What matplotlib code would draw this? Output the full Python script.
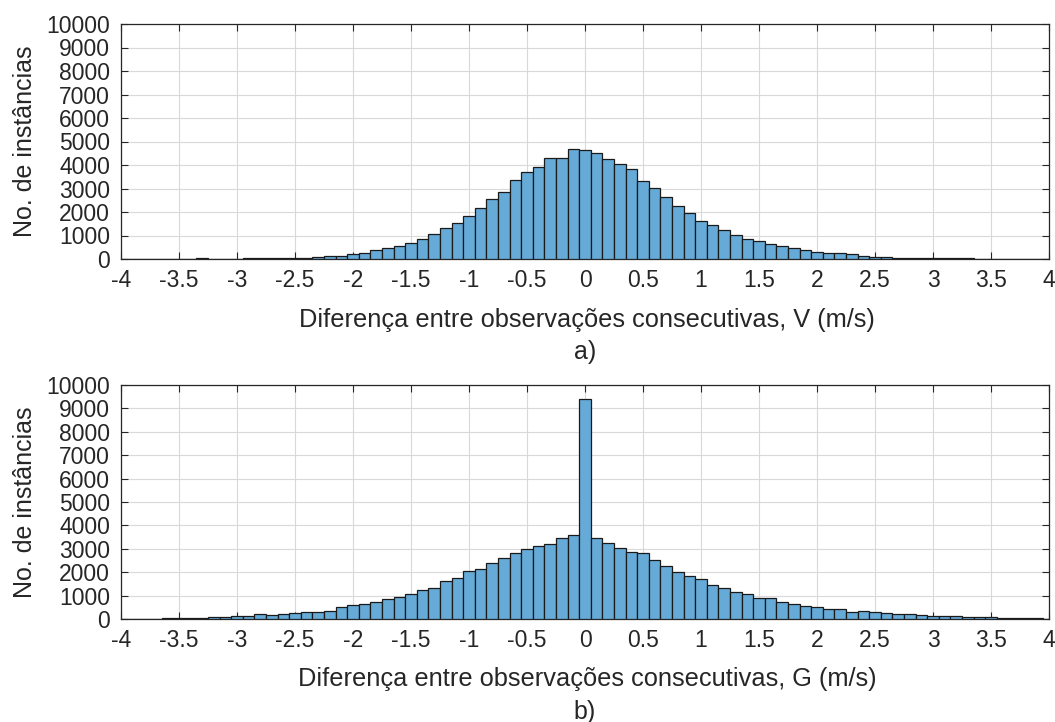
import numpy as np
import matplotlib
matplotlib.use("Agg")
import matplotlib.pyplot as plt

plt.rcParams['font.family'] = ['Liberation Sans', 'DejaVu Sans']

# Bin centers (width 0.1)
centers = [round(-4.0 + 0.1 * i, 1) for i in range(81)]

# Panel a) counts, V
counts_v = [
    0, 0, 0, 5, 5, 0, 10, 40, 10, 10,          # -4.0 .. -3.1
    20, 25, 25, 30, 35, 58, 58, 100, 145, 145,  # -3.0 .. -2.1
    203, 246, 362, 478, 536, 667, 850, 1067, 1323, 1550,  # -2.0 .. -1.1
    1835, 2176, 2560, 2830, 3343, 3684, 3912, 4282, 4282, 4666,  # -1.0 .. -0.1
    4623,  # 0.0
    4523, 4253, 4054, 3826, 3314, 3016, 2632, 2262, 1977, 1636,  # 0.1 .. 1.0
    1437, 1238, 1040, 870, 768, 638, 536, 449, 391, 300,  # 1.1 .. 2.0
    250, 240, 200, 130, 80, 70, 60, 30, 25, 25,  # 2.1 .. 3.0
    25, 25, 25, 5, 5, 5, 0, 0, 0, 0,  # 3.1 .. 4.0
]

# Panel b) counts, G
counts_g = [
    10, 10, 20, 20, 58, 58, 58, 58, 100, 87,  # -4.0 .. -3.1
    116, 145, 217, 188, 217, 261, 290, 290, 333, 493,  # -3.0 .. -2.1
    594, 638, 739, 840, 942, 1072, 1220, 1323, 1622, 1750,  # -2.0 .. -1.1
    2034, 2134, 2375, 2603, 2802, 2973, 3130, 3215, 3442, 3599,  # -1.0 .. -0.1
    9388,  # 0.0
    3442, 3257, 3016, 2845, 2802, 2504, 2262, 1991, 1835, 1693,  # 0.1 .. 1.0
    1465, 1323, 1140, 1072, 884, 884, 739, 638, 551, 493,  # 1.1 .. 2.0
    435, 406, 290, 348, 304, 246, 203, 203, 188, 145,  # 2.1 .. 3.0
    145, 116, 100, 100, 72, 58, 58, 58, 58, 15,  # 3.1 .. 4.0
]

xticks = [-4, -3.5, -3, -2.5, -2, -1.5, -1, -0.5, 0, 0.5, 1, 1.5, 2, 2.5, 3, 3.5, 4]
xticklabels = ['-4', '-3.5', '-3', '-2.5', '-2', '-1.5', '-1', '-0.5', '0',
               '0.5', '1', '1.5', '2', '2.5', '3', '3.5', '4']
yticks = list(range(0, 10001, 1000))
ylabel = 'No. de instâncias'
xlabels = ['Diferença entre observações consecutivas, V (m/s)',
           'Diferença entre observações consecutivas, G (m/s)']
panel_tags = ['a)', 'b)']

W, H = 1055, 722
fig = plt.figure(figsize=(W / 100, H / 100), dpi=100)

ax_boxes = [
    (121 / W, 1 - 259 / H, 928 / W, 235 / H),
    (121 / W, 1 - 619 / H, 928 / W, 234 / H),
]
xlabel_y = [320, 679]
tag_y = [352, 712]

face = '#66AAD7'
axcol = '#262626'

for k, (counts, box) in enumerate(zip([counts_v, counts_g], ax_boxes)):
    ax = fig.add_axes(box)
    ax.bar(centers, counts, width=0.1, align='center', color=face,
           edgecolor='#1a1a1a', linewidth=0.9, zorder=3)
    ax.set_xlim(-4, 4)
    ax.set_ylim(0, 10000)
    ax.set_xticks(xticks)
    ax.set_xticklabels(xticklabels)
    ax.set_yticks(yticks)
    ax.grid(True, color='#d9d9d9', linewidth=0.8, zorder=0)
    ax.set_axisbelow(True)
    ax.tick_params(direction='in', top=True, right=True, length=5,
                   width=0.8, colors=axcol, labelsize=16.5)
    ax.tick_params(axis='x', pad=7)
    ax.tick_params(axis='y', pad=8)
    for s in ax.spines.values():
        s.set_color(axcol)
        s.set_linewidth(0.9)
    fig.text(25 / W, box[1] + box[3] / 2, ylabel, rotation=90,
             ha='center', va='center', fontsize=18, color=axcol)
    fig.text(587 / W, 1 - xlabel_y[k] / H, xlabels[k], ha='center', va='center',
             fontsize=18.3, color=axcol)
    fig.text(585 / W, 1 - tag_y[k] / H, panel_tags[k], ha='center', va='center',
             fontsize=18, color=axcol)

fig.savefig('out.png', dpi=100)
